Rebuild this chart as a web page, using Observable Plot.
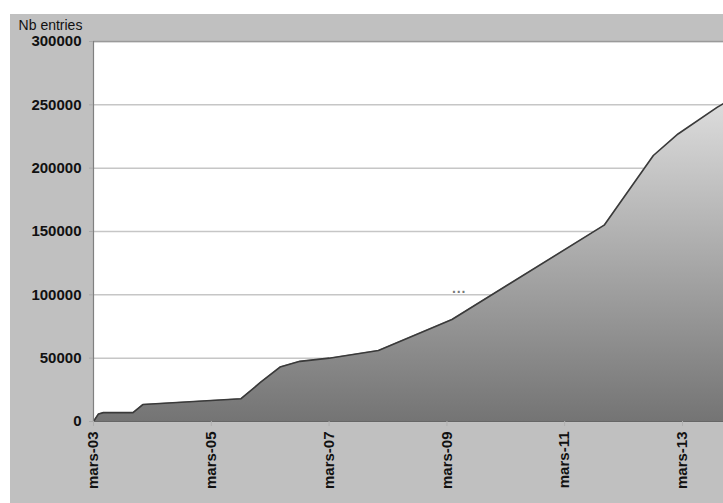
<!DOCTYPE html>
<html><head><meta charset="utf-8">
<script src="https://cdn.jsdelivr.net/npm/d3@7"></script>
<script src="https://cdn.jsdelivr.net/npm/@observablehq/plot@0.6"></script>
<style>
body{margin:0;background:#fff;}
#chart svg{display:block;}
</style></head><body><div id="chart"></div>
<script>
const dates = ["2003-03-01","2003-04-01","2003-05-01","2003-11-01","2004-01-01","2005-09-01","2006-01-01","2006-05-01","2006-09-01","2007-03-01","2008-01-01","2009-04-01","2011-11-01","2012-09-01","2013-02-01","2013-10-01","2013-11-10"];
const values = [0,6000,7000,7000,13400,18000,31000,43000,47500,50000,56000,80500,155000,210000,227000,248000,251000];
const yTicks = [0,50000,100000,150000,200000,250000,300000];
const xTickDates = ["2003-03-01","2005-03-01","2007-03-01","2009-03-01","2011-03-01","2013-03-01"];
const xTickLabels = ["mars-03","mars-05","mars-07","mars-09","mars-11","mars-13"];
const yLabel = "Nb entries";
const xDomain = ["2003-03-01","2013-11-10"];
const noteDate = "2009-05-15", noteValue = 101500, noteText = "···";

const data = dates.map((d,i)=>({date:new Date(d), value:values[i]}));
const labelMap = new Map(xTickDates.map((d,i)=>[+new Date(d), xTickLabels[i]]));
const x0 = new Date(xDomain[0]), x1 = new Date(xDomain[1]);

const chart = Plot.plot({
  width: 723, height: 503,
  marginLeft: 93, marginRight: 0, marginTop: 41, marginBottom: 82,
  style: {
    fontFamily: "'Liberation Sans', Arial, sans-serif",
    fontSize: "15px",
    background: "linear-gradient(#fff,#fff) 0 0/100% 14px no-repeat, linear-gradient(#fff,#fff) 0 0/10px 100% no-repeat, #c0c0c0"
  },
  x: {type: "utc", domain: [x0, x1]},
  y: {domain: [0, 300000]},
  marks: [
    Plot.frame({fill: "white", stroke: null}),
    Plot.gridY(yTicks, {stroke: "#c6c6c6", strokeOpacity: 1, strokeWidth: 1.5}),
    Plot.areaY(data, {x: "date", y: "value", fill: "url(#areaGrad)"}),
    Plot.lineY(data, {x: "date", y: "value", stroke: "#3a3a3a", strokeWidth: 1.6}),
    Plot.ruleY([300000], {stroke: "#9a9a9a", strokeWidth: 1.5}),
    Plot.ruleX([x0], {stroke: "#808080", strokeWidth: 1.2}),
    Plot.ruleY([0], {stroke: "#666", strokeWidth: 1.2}),
    Plot.axisY({ticks: yTicks, tickSize: 4, tickPadding: 8, label: null, fontWeight: "bold", fill: "#111", stroke: "#aaa", tickFormat: d => String(d)}),
    Plot.axisX({ticks: xTickDates.map(d => new Date(d)), tickSize: 5, tickPadding: 5, tickRotate: -90, label: null, fontWeight: "bold", fill: "#111", stroke: "#b0b0b0", tickFormat: d => labelMap.get(+d)}),
    Plot.text([yLabel], {frameAnchor: "top-left", dx: -43, dy: -21, textAnchor: "middle", fill: "#111", fontSize: 14}),
    Plot.text([noteText], {x: () => new Date(noteDate), y: () => noteValue, fill: "#777", fontSize: 14, fontWeight: "bold"})
  ]
});

const defs = d3.select(chart).insert("defs", ":first-child");
const g = defs.append("linearGradient").attr("id", "areaGrad").attr("x1", 0).attr("y1", 0).attr("x2", 0).attr("y2", 1);
g.append("stop").attr("offset", "0%").attr("stop-color", "#dcdcdc");
g.append("stop").attr("offset", "100%").attr("stop-color", "#747474");

document.getElementById("chart").append(chart);
</script>
</body></html>
